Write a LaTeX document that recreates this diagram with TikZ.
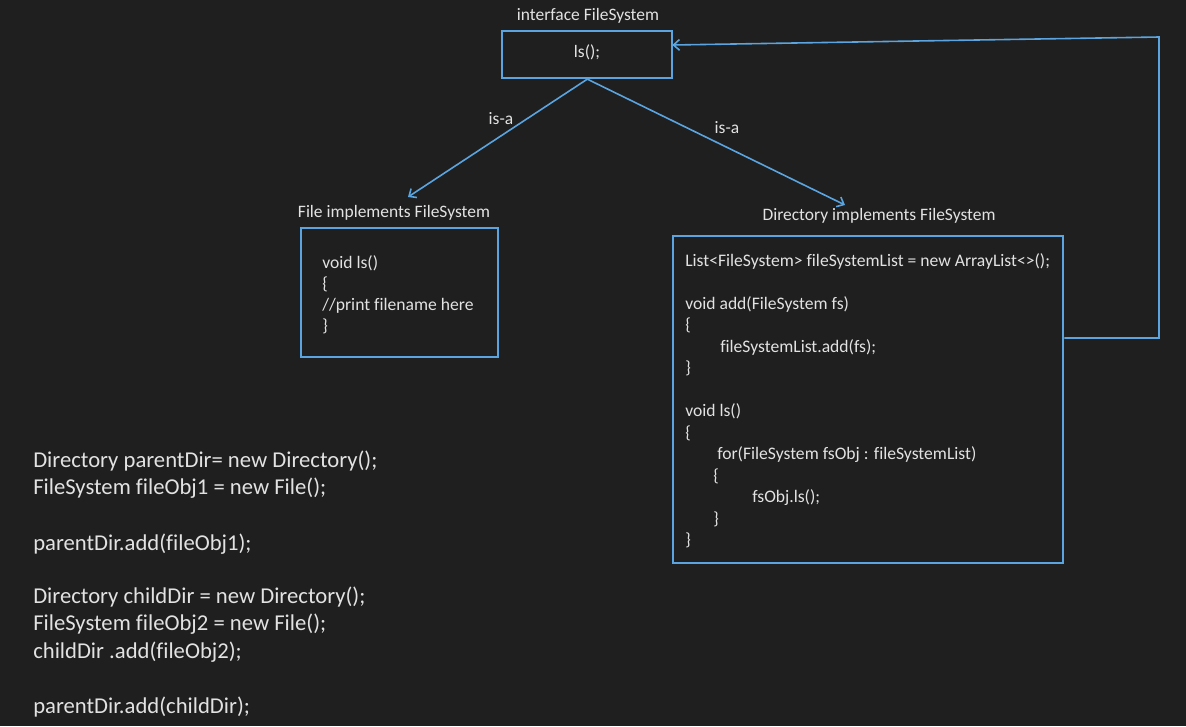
\documentclass[tikz,border=0pt]{standalone}
\usepackage{fontspec}
\setmainfont{Carlito}[Ligatures=CommonOff]
\usetikzlibrary{arrows.meta}
\definecolor{bg}{HTML}{1F1F1F}
\definecolor{umlblue}{HTML}{5AA5E0}
\definecolor{ink}{HTML}{E2E2E2}
\begin{document}
\begin{tikzpicture}[x=0.75pt,y=-0.75pt,
  box/.style={draw=umlblue, line width=1.5pt, inner sep=0pt},
  link/.style={draw=umlblue, line width=1.2pt, -{Straight Barb[length=4.5pt,width=8pt]}},
  title/.style={text=ink, font=\fontsize{13.1}{15}\selectfont, anchor=base, inner sep=0pt},
  code/.style={text=ink, font=\fontsize{13.2}{15}\selectfont, anchor=base west, inner sep=0pt},
  bigcode/.style={text=ink, font=\fontsize{17}{20}\selectfont, anchor=base west, inner sep=0pt}]
% canvas
\fill[bg] (0,0) rectangle (1186,726);
\useasboundingbox (0,0) rectangle (1186,726);

% class boxes
\node[box, minimum width=127.5pt, minimum height=35.3pt] (iface) at (587.3,54.6) {};
\node[box, minimum width=147.5pt, minimum height=96.3pt] (file) at (399.3,292.5) {};
\node[box, minimum width=292.5pt, minimum height=245.7pt] (dir) at (868.3,399.5) {};

% box titles
\node[title] (ifaceT) at (588,20) {interface FileSystem};
\node[title] (ifaceM) at (587,57) {ls();};
\node[title] (fileT) at (394,217) {File implements FileSystem};
\node[title] (dirT) at (879,220) {Directory implements FileSystem};

% File body
\foreach \i/\px/\py/\t in {1/322/268/{void ls()}, 2/322/289/{\{}, 3/322/310/{//print filename here}, 4/322/331/{\}}}
  \node[code] (f\i) at (\px,\py) {\t};

% Directory body
\foreach \i/\px/\py/\t in {
  1/685/266/{List<FileSystem> fileSystemList = new ArrayList<>();},
  2/685/309/{void add(FileSystem fs)},
  3/685/330.5/{\{},
  4/720/352/{fileSystemList.add(fs);},
  5/685/373.5/{\}},
  6/685/416.5/{void ls()},
  7/685/438/{\{},
  8/717/459.5/{for(FileSystem fsObj : fileSystemList)},
  9/713/481/{\{},
  10/752/502.5/{fsObj.ls();},
  11/713/524/{\}},
  12/685/545.5/{\}}}
  \node[code] (d\i) at (\px,\py) {\t};

% client code
\foreach \i/\py/\t in {
  1/467/{Directory parentDir= new Directory();},
  2/494/{FileSystem fileObj1 = new File();},
  3/550/{parentDir.add(fileObj1);},
  4/603/{Directory childDir = new Directory();},
  5/630.5/{FileSystem fileObj2 = new File();},
  6/658/{childDir .add(fileObj2);},
  7/713/{parentDir.add(childDir);}}
  \node[bigcode] (c\i) at (33,\py) {\t};

% inheritance arrows
\coordinate (fileTip) at (408,197);
\coordinate (dirTip) at (845,205);
\draw[link] (iface.south) -- (fileTip);
\draw[link] (iface.south) -- (dirTip);
\node[title, anchor=center] (isaL) at (501,119) {is-a};
\node[title, anchor=center] (isaR) at (727,128) {is-a};

% composition loop back to the interface
\coordinate (loopB) at (1159,338);
\coordinate (loopT) at (1159,37);
\coordinate (ifaceIn) at (672.3,45);
\draw[link] (dir.east |- loopB) -- (loopB) -- (loopT) -- (ifaceIn);
\end{tikzpicture}
\end{document}
